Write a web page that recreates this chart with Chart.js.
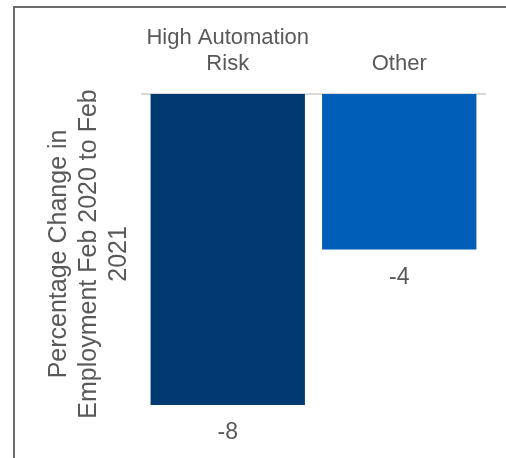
<!DOCTYPE html>
<html>
<head>
<meta charset="utf-8">
<script src="https://cdn.jsdelivr.net/npm/chart.js@4/dist/chart.umd.min.js"></script>
<style>
  html, body { margin: 0; padding: 0; background: #fff; }
  #wrap { position: relative; width: 506px; height: 458px; }
  #frame {
    position: absolute; left: 13px; top: 6px; right: 0; bottom: 0;
    border-top: 2px solid #6b6b6b; border-left: 2px solid #6b6b6b;
    pointer-events: none;
  }
</style>
</head>
<body>
<div id="wrap">
  <canvas id="barChart" width="506" height="458"></canvas>
  <div id="frame"></div>
</div>
<script>
// employment change by automation risk group
var groups = [["High Automation", "Risk"], "Other"];
var change = [-8, -4];
var barColors = ["#003a70", "#005eb8"];
var axisTitle = ["Percentage Change in", "Employment Feb 2020 to Feb", "2021"];

var textColor = "#595959";
var fontFamily = "'Liberation Sans', Arial, sans-serif";

// write each bar's value under its end
var valueLabels = {
  id: "valueLabels",
  afterDatasetsDraw: function (chart) {
    var ctx = chart.ctx;
    var meta = chart.getDatasetMeta(0);
    ctx.save();
    ctx.fillStyle = textColor;
    ctx.font = "23px " + fontFamily;
    ctx.textAlign = "center";
    ctx.textBaseline = "middle";
    meta.data.forEach(function (bar, i) {
      ctx.fillText(String(chart.data.datasets[0].data[i]), bar.x, bar.y + 28);
    });
    ctx.restore();
  }
};

var barChart = new Chart(document.getElementById("barChart"), {
  type: "bar",
  data: {
    labels: groups,
    datasets: [{
      data: change,
      backgroundColor: barColors,
      barPercentage: 0.9,
      categoryPercentage: 1.0
    }]
  },
  options: {
    responsive: false,
    animation: false,
    layout: { padding: { left: 40, right: 21, top: 8, bottom: 44 } },
    plugins: {
      legend: { display: false },
      tooltip: { enabled: false }
    },
    scales: {
      x: {
        position: "top",
        grid: { display: false, drawTicks: false },
        border: { display: true, color: "#d9d9d9", width: 2 },
        ticks: {
          color: textColor,
          font: { family: fontFamily, size: 22, lineHeight: 1.18 },
          padding: 17,
          maxRotation: 0,
          minRotation: 0
        }
      },
      y: {
        min: -8.23,
        max: 0,
        grid: { display: false, drawTicks: false },
        border: { display: false },
        ticks: { display: false },
        title: {
          display: true,
          text: axisTitle,
          color: textColor,
          font: { family: fontFamily, size: 25, lineHeight: 1.2 },
          padding: { top: 4, bottom: 8 }
        }
      }
    }
  },
  plugins: [valueLabels]
});
</script>
</body>
</html>
